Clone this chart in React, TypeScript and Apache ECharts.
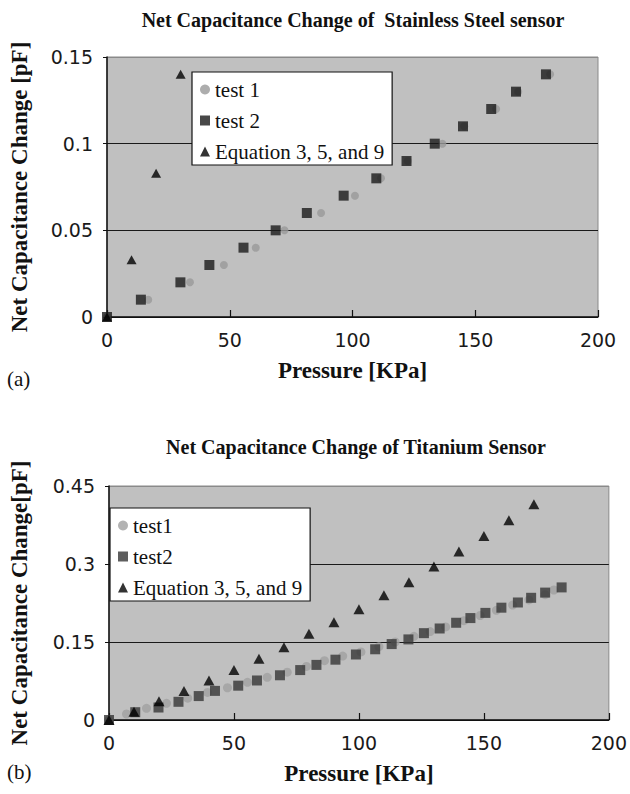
import React, { useEffect, useRef } from "react";
import * as echarts from "echarts";

// ---- (a) Stainless steel sensor ----
const ssTest1Pressure = [0, 16.8, 33.8, 47.6, 60.6, 72.3, 87.2, 101, 111.6, 122.5, 136.6, 145.5, 158.5, 167.5, 180.5];
const ssTest1Cap = [0, 0.01, 0.02, 0.03, 0.04, 0.05, 0.06, 0.07, 0.08, 0.09, 0.1, 0.11, 0.12, 0.13, 0.14];
const ssTest2Pressure = [0, 13.8, 29.9, 41.7, 55.6, 68.7, 81.4, 96.4, 109.7, 122, 133.5, 145, 156.5, 166.6, 178.8];
const ssTest2Cap = [0, 0.01, 0.02, 0.03, 0.04, 0.05, 0.06, 0.07, 0.08, 0.09, 0.1, 0.11, 0.12, 0.13, 0.14];
const ssEqPressure = [0, 10, 20, 30];
const ssEqCap = [0, 0.033, 0.083, 0.14];

// ---- (b) Titanium sensor ----
const tiTest1Pressure = [0, 7, 15, 23, 31.5, 39.4, 47.4, 55.4, 63.3, 71.3, 79, 86.2, 93.5, 100.8, 108, 114.5, 122, 128.5, 134.7, 142, 148.5, 155, 161.5, 168, 174.5, 178];
const tiTest1Cap = [0, 0.0115, 0.0225, 0.032, 0.042, 0.053, 0.062, 0.0725, 0.082, 0.092, 0.103, 0.114, 0.123, 0.131, 0.141, 0.15, 0.161, 0.17, 0.179, 0.191, 0.201, 0.211, 0.221, 0.231, 0.241, 0.25];
const tiTest2Pressure = [0, 10.5, 19.8, 27.8, 35.9, 42.4, 51.7, 59.2, 68.4, 76.5, 83, 90.6, 98.8, 106.5, 113.1, 119.8, 126, 132.3, 138.9, 144.6, 150.6, 157, 163.6, 168.9, 174.5, 181.1];
const tiTest2Cap = [0, 0.015, 0.024, 0.035, 0.046, 0.056, 0.066, 0.076, 0.086, 0.096, 0.106, 0.116, 0.126, 0.136, 0.146, 0.155, 0.167, 0.176, 0.187, 0.196, 0.206, 0.216, 0.226, 0.235, 0.245, 0.255];
const tiEqPressure = [0, 10, 20, 30, 40, 50, 60, 70, 80, 90, 100, 110, 120, 130, 140, 150, 160, 170];
const tiEqCap = [0, 0.016, 0.036, 0.056, 0.076, 0.096, 0.118, 0.14, 0.166, 0.188, 0.213, 0.24, 0.265, 0.295, 0.324, 0.354, 0.384, 0.415];

const xTicks = { min: 0, max: 200, interval: 50 };
const ssYTicks = { min: 0, max: 0.15, interval: 0.05 };
const tiYTicks = { min: 0, max: 0.45, interval: 0.15 };

const zip = (xs: number[], ys: number[]) => xs.map((x, i) => [x, ys[i]]);

const SERIF = "'Liberation Serif', 'Times New Roman', serif";
const SANS = "'DejaVu Sans', sans-serif";

function makeXAxis(gridIndex: number, nameGap: number) {
  return {
    type: "value",
    gridIndex,
    ...xTicks,
    name: "Pressure [KPa]",
    nameLocation: "middle",
    nameGap,
    nameTextStyle: { fontFamily: SERIF, fontWeight: "bold", fontSize: 23, color: "#111" },
    axisLine: { show: true, onZero: false, lineStyle: { color: "#111", width: 1.5 } },
    axisTick: { show: true, inside: true, length: 7, lineStyle: { color: "#111", width: 1.2 } },
    axisLabel: { margin: 13, fontFamily: SANS, fontSize: 19, color: "#1a1a1a" },
    splitLine: { show: false },
  };
}

function makeYAxis(gridIndex: number, ticks: any, name: string, nameGap: number) {
  return {
    type: "value",
    gridIndex,
    ...ticks,
    name,
    nameLocation: "middle",
    nameRotate: 90,
    nameGap,
    nameTextStyle: { fontFamily: SERIF, fontWeight: "bold", fontSize: 23, color: "#111" },
    axisLine: { show: true, onZero: false, lineStyle: { color: "#111", width: 1.5 } },
    axisTick: { show: true, inside: false, length: 4, lineStyle: { color: "#111" } },
    axisLabel: {
      margin: 14,
      fontFamily: SANS,
      fontSize: 19,
      color: "#1a1a1a",
      formatter: (v: number) => String(parseFloat(v.toFixed(4))),
    },
    splitLine: {
      show: true,
      lineStyle: { color: ["#111", "#1a1a1a", "#1a1a1a", "#8a8a8a"], width: 1 },
    },
  };
}

function makeLegend(names: string[], left: number, top: number) {
  return {
    data: names,
    left,
    top,
    orient: "vertical",
    selectedMode: false,
    backgroundColor: "#ffffff",
    borderColor: "#111",
    borderWidth: 1.2,
    borderRadius: 0,
    padding: [7, 8, 3, 8],
    itemGap: 10,
    itemWidth: 10,
    itemHeight: 10,
    textStyle: { fontFamily: SERIF, fontSize: 21, lineHeight: 21, color: "#111" },
  };
}

export default function App() {
  const ref = useRef<HTMLDivElement>(null);

  useEffect(() => {
    if (!ref.current) return;
    const chart = echarts.init(ref.current, null, { renderer: "svg" });
    const option: any = {
      animation: false,
      backgroundColor: "#ffffff",
      title: [
        {
          text: "Net Capacitance Change of  Stainless Steel sensor",
          left: 353,
          top: 10,
          textAlign: "center",
          padding: 0,
          textStyle: { fontFamily: SERIF, fontWeight: "bold", fontSize: 20, color: "#111" },
        },
        {
          text: "Net Capacitance Change of Titanium Sensor",
          left: 356,
          top: 437,
          textAlign: "center",
          padding: 0,
          textStyle: { fontFamily: SERIF, fontWeight: "bold", fontSize: 20, color: "#111" },
        },
        {
          text: "(a)",
          left: 7,
          top: 368,
          padding: 0,
          textStyle: { fontFamily: SERIF, fontWeight: "normal", fontSize: 21, color: "#111" },
        },
        {
          text: "(b)",
          left: 7,
          top: 761,
          padding: 0,
          textStyle: { fontFamily: SERIF, fontWeight: "normal", fontSize: 21, color: "#111" },
        },
      ],
      legend: [
        makeLegend(["test 1", "test 2", "Equation 3, 5, and 9"], 192, 72),
        makeLegend(["test1", "test2", "Equation 3, 5, and 9"], 110, 508),
      ],
      grid: [
        { left: 105, top: 57, width: 493, height: 260, show: true, backgroundColor: "#c0c0c0", borderColor: "#8a8a8a", borderWidth: 1 },
        { left: 107, top: 486, width: 502, height: 234, show: true, backgroundColor: "#c0c0c0", borderColor: "#8a8a8a", borderWidth: 1 },
      ],
      xAxis: [makeXAxis(0, 42), makeXAxis(1, 42)],
      yAxis: [
        makeYAxis(0, ssYTicks, "Net Capacitance Change [pF]", 76),
        makeYAxis(1, tiYTicks, "Net Capacitance Change[pF]", 78),
      ],
      series: [
        {
          type: "scatter", name: "test 1", xAxisIndex: 0, yAxisIndex: 0, clip: false,
          data: zip(ssTest1Pressure, ssTest1Cap), symbol: "circle", symbolSize: 8,
          itemStyle: { color: "#999999" },
        },
        {
          type: "scatter", name: "test 2", xAxisIndex: 0, yAxisIndex: 0, clip: false,
          data: zip(ssTest2Pressure, ssTest2Cap), symbol: "rect", symbolSize: 10,
          itemStyle: { color: "#1a1a1a" },
        },
        {
          type: "scatter", name: "Equation 3, 5, and 9", xAxisIndex: 0, yAxisIndex: 0, clip: false,
          data: zip(ssEqPressure, ssEqCap), symbol: "triangle", symbolSize: [10, 9],
          itemStyle: { color: "#000000" },
        },
        {
          type: "scatter", name: "test1", xAxisIndex: 1, yAxisIndex: 1, clip: false,
          data: zip(tiTest1Pressure, tiTest1Cap), symbol: "circle", symbolSize: 9,
          itemStyle: { color: "#a0a0a0" },
        },
        {
          type: "scatter", name: "test2", xAxisIndex: 1, yAxisIndex: 1, clip: false,
          data: zip(tiTest2Pressure, tiTest2Cap), symbol: "rect", symbolSize: 10,
          itemStyle: { color: "#363636" },
        },
        {
          type: "scatter", name: "Equation 3, 5, and 9", xAxisIndex: 1, yAxisIndex: 1, clip: false,
          data: zip(tiEqPressure, tiEqCap), symbol: "triangle", symbolSize: [11, 10],
          itemStyle: { color: "#000000" },
        },
      ],
    };
    chart.setOption(option);
    return () => chart.dispose();
  }, []);

  return (
    <div
      ref={ref}
      style={{ position: "absolute", left: 0, top: 0, width: 630, height: 794, background: "#fff" }}
    />
  );
}
